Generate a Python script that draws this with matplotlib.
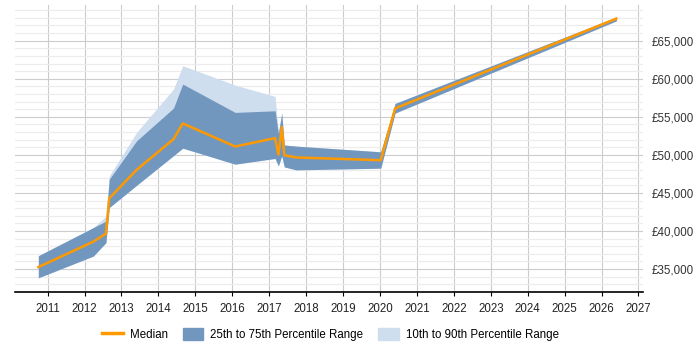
import matplotlib.pyplot as plt
from matplotlib.ticker import MultipleLocator, FuncFormatter
from matplotlib.lines import Line2D
from matplotlib.patches import Patch

# data
years = [2010.75, 2012.24, 2012.58, 2012.67, 2013.41, 2014.41, 2014.66, 2016.08,
         2017.16, 2017.25, 2017.34, 2017.41, 2017.73, 2020.02, 2020.41, 2026.40]
median = [35260, 38600, 39660, 44300, 48030, 52070, 54130, 51100,
          52200, 50050, 53650, 49960, 49660, 49300, 56100, 67900]
p25 = [33850, 36710, 38470, 43080, 46000, 49900, 50880, 48780,
       49530, 48550, 49870, 48420, 48030, 48250, 55490, 67600]
p75 = [36750, 40450, 41300, 46800, 51840, 56150, 59300, 55580,
       55790, 52800, 55500, 51300, 51150, 50400, 56760, 68100]
p10 = p25
p90 = [36750, 40450, 41930, 47240, 52950, 58650, 61710, 59170,
       57680, 53000, 55500, 51300, 51150, 50400, 56760, 68100]

orange = '#ff9900'
dark = '#7297bf'
light = '#cfdeef'

plt.rcParams['font.family'] = ['Liberation Sans', 'DejaVu Sans']

fig = plt.figure(figsize=(7, 3.5), dpi=100)
ax = fig.add_axes([0.021, 0.166, 0.898, 0.82])

ax.fill_between(years, p10, p90, color=light, lw=0, zorder=2)
ax.fill_between(years, p25, p75, color=dark, lw=0, zorder=3)
ax.plot(years, median, color=orange, lw=1.8, zorder=4)

ax.set_xlim(2010.11, 2027.13)
ax.set_ylim(32000, 69700)
ax.xaxis.set_major_locator(MultipleLocator(1))
ax.xaxis.set_major_formatter(FuncFormatter(lambda v, p: f'{int(round(v))}'))
ax.yaxis.set_major_locator(MultipleLocator(5000))
ax.yaxis.set_minor_locator(MultipleLocator(1000))
ax.yaxis.set_major_formatter(FuncFormatter(lambda v, p: f'£{int(v):,}'))
ax.yaxis.tick_right()

ax.grid(axis='x', which='major', color='#cccccc', lw=0.8, zorder=0)
ax.grid(axis='y', which='major', color='#cccccc', lw=0.8, zorder=0)
ax.grid(axis='y', which='minor', color='#ececec', lw=0.8, zorder=0)
ax.set_axisbelow(True)

for s in ['left', 'right', 'top']:
    ax.spines[s].set_visible(False)
ax.spines['bottom'].set_color('black')
ax.spines['bottom'].set_linewidth(1.2)

ax.tick_params(axis='y', which='both', length=0, labelsize=8.3, labelcolor='#333333', pad=6)
ax.tick_params(axis='x', length=3, color='black', labelsize=8.3, labelcolor='#222222', pad=5)

handles = [Line2D([0], [0], color=orange, lw=2.5),
           Patch(color=dark), Patch(color=light)]
labels = ['Median', '25th to 75th Percentile Range', '10th to 90th Percentile Range']
fig.legend(handles, labels, loc='center', bbox_to_anchor=(0.472, 0.045), ncol=3,
           frameon=False, fontsize=8.3, handlelength=1.8, handleheight=1.3,
           columnspacing=1.3, handletextpad=0.6)

plt.savefig('out.png', dpi=100)
